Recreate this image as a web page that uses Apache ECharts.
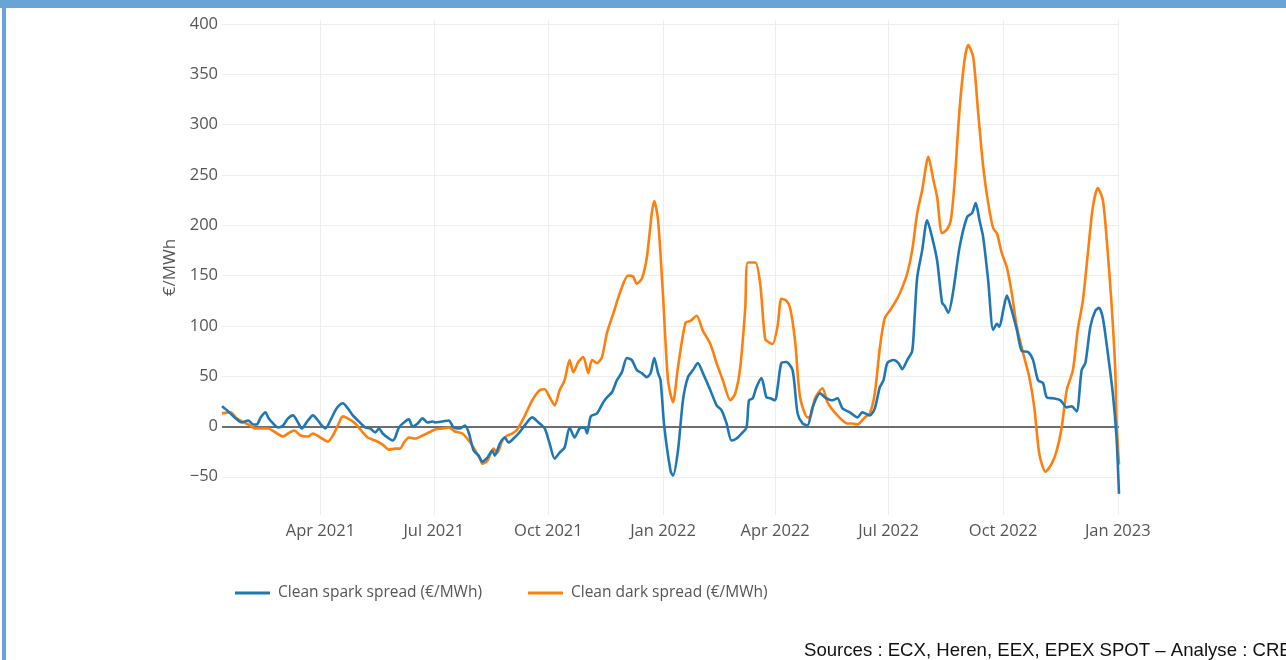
<!DOCTYPE html>
<html>
<head>
<meta charset="utf-8">
<title>Clean spark spread / Clean dark spread</title>
<script src="https://cdn.jsdelivr.net/npm/echarts@6/dist/echarts.min.js"></script>
<style>
  html, body { margin: 0; padding: 0; background: #ffffff; }
  #chart { width: 1286px; height: 660px; }
</style>
</head>
<body>
<div id="chart"></div>
<script>
// Clean spark spread (gas) and clean dark spread (coal), €/MWh
const sparkDates = [
  '2021-01-12','2021-01-17','2021-01-23','2021-01-28','2021-02-02','2021-02-06','2021-02-09','2021-02-12',
  '2021-02-16','2021-02-18','2021-02-22','2021-02-26','2021-03-02','2021-03-06','2021-03-10','2021-03-14',
  '2021-03-17','2021-03-22','2021-03-26','2021-03-30','2021-04-02','2021-04-05','2021-04-09','2021-04-13',
  '2021-04-16','2021-04-19','2021-04-23','2021-04-27','2021-05-01','2021-05-07','2021-05-11','2021-05-15',
  '2021-05-18','2021-05-21','2021-05-26','2021-05-29','2021-05-31','2021-06-03','2021-06-08','2021-06-11',
  '2021-06-14','2021-06-18','2021-06-22','2021-06-26','2021-06-30','2021-07-02','2021-07-08','2021-07-13',
  '2021-07-17','2021-07-22','2021-07-26','2021-07-29','2021-08-02','2021-08-06','2021-08-09','2021-08-13',
  '2021-08-17','2021-08-19','2021-08-23','2021-08-27','2021-08-30','2021-09-03','2021-09-07','2021-09-12',
  '2021-09-18','2021-09-23','2021-09-28','2021-10-02','2021-10-06','2021-10-10','2021-10-14','2021-10-18',
  '2021-10-22','2021-10-26','2021-10-30','2021-11-01','2021-11-04','2021-11-09','2021-11-14','2021-11-17',
  '2021-11-21','2021-11-25','2021-11-29','2021-12-03','2021-12-07','2021-12-11','2021-12-15','2021-12-19',
  '2021-12-22','2021-12-25','2021-12-28','2021-12-30','2022-01-02','2022-01-07','2022-01-09','2022-01-13',
  '2022-01-17','2022-01-21','2022-01-25','2022-01-29','2022-02-02','2022-02-08','2022-02-13','2022-02-17',
  '2022-02-21','2022-02-25','2022-03-01','2022-03-05','2022-03-09','2022-03-11','2022-03-14','2022-03-17',
  '2022-03-21','2022-03-25','2022-03-28','2022-04-01','2022-04-03','2022-04-06','2022-04-10','2022-04-15',
  '2022-04-19','2022-04-23','2022-04-27','2022-05-01','2022-05-07','2022-05-11','2022-05-17','2022-05-21',
  '2022-05-25','2022-05-31','2022-06-06','2022-06-10','2022-06-16','2022-06-20','2022-06-24','2022-06-27',
  '2022-06-30','2022-07-05','2022-07-09','2022-07-12','2022-07-16','2022-07-20','2022-07-22','2022-07-24',
  '2022-07-28','2022-08-01','2022-08-05','2022-08-09','2022-08-13','2022-08-15','2022-08-18','2022-08-22',
  '2022-08-27','2022-09-02','2022-09-06','2022-09-09','2022-09-12','2022-09-15','2022-09-19','2022-09-23',
  '2022-09-26','2022-09-28','2022-10-01','2022-10-04','2022-10-08','2022-10-12','2022-10-16','2022-10-21',
  '2022-10-25','2022-10-29','2022-11-02','2022-11-05','2022-11-10','2022-11-16','2022-11-21','2022-11-25',
  '2022-11-29','2022-12-03','2022-12-06','2022-12-10','2022-12-14','2022-12-17','2022-12-20','2022-12-24',
  '2022-12-28','2022-12-31','2023-01-02'
];
const sparkValues = [
  20, 15, 8, 4, 6, 2, 2, 9,
  14, 9, 3, -1, 1, 8, 11, 4,
  -2, 6, 11, 6, 1, -2, 6, 16,
  21, 23, 18, 11, 6, -1, -2, -6,
  -2, -7, -12, -14, -11, -1, 5, 7,
  0, 3, 8, 4, 5, 4, 5, 6,
  -1, -2, 1, -6, -24, -29, -35, -31,
  -24, -29, -17, -11, -16, -12, -7, 1,
  9, 4, -2, -17, -32, -26, -21, -1,
  -11, -2, -1, -7, 10, 13, 24, 29,
  34, 46, 54, 68, 66, 56, 53, 49,
  53, 68, 53, 46, 0, -44, -49, -24,
  26, 49, 56, 63, 53, 36, 21, 16,
  3, -14, -12, -7, -1, 26, 28, 39,
  48, 29, 28, 26, 39, 63, 64, 56,
  13, 3, 1, 19, 33, 29, 26, 28,
  18, 14, 9, 14, 11, 18, 39, 46,
  63, 66, 63, 57, 66, 75, 110, 148,
  175, 205, 188, 165, 123, 120, 113, 135,
  178, 208, 212, 222, 205, 188, 145, 96,
  102, 99, 115, 130, 115, 96, 75, 74,
  66, 46, 43, 29, 28, 26, 19, 20,
  15, 56, 63, 99, 115, 118, 108, 73,
  33, -11, -67
];

const darkDates = [
  '2021-01-12','2021-01-19','2021-01-23','2021-01-28','2021-02-02','2021-02-08','2021-02-13','2021-02-18',
  '2021-02-24','2021-03-02','2021-03-06','2021-03-11','2021-03-16','2021-03-22','2021-03-26','2021-04-01',
  '2021-04-07','2021-04-11','2021-04-15','2021-04-19','2021-04-23','2021-04-29','2021-05-05','2021-05-09',
  '2021-05-15','2021-05-21','2021-05-26','2021-05-31','2021-06-04','2021-06-07','2021-06-11','2021-06-16',
  '2021-06-22','2021-06-27','2021-07-02','2021-07-08','2021-07-13','2021-07-18','2021-07-24','2021-07-29',
  '2021-08-02','2021-08-07','2021-08-09','2021-08-13','2021-08-18','2021-08-21','2021-08-25','2021-08-29',
  '2021-09-02','2021-09-06','2021-09-11','2021-09-18','2021-09-24','2021-09-28','2021-10-02','2021-10-06',
  '2021-10-10','2021-10-14','2021-10-18','2021-10-21','2021-10-25','2021-10-29','2021-11-02','2021-11-05',
  '2021-11-09','2021-11-13','2021-11-17','2021-11-22','2021-11-28','2021-12-04','2021-12-08','2021-12-11',
  '2021-12-15','2021-12-19','2021-12-23','2021-12-25','2021-12-28','2022-01-01','2022-01-05','2022-01-09',
  '2022-01-13','2022-01-19','2022-01-23','2022-01-28','2022-02-02','2022-02-08','2022-02-13','2022-02-18',
  '2022-02-24','2022-02-28','2022-03-04','2022-03-08','2022-03-10','2022-03-16','2022-03-20','2022-03-24',
  '2022-03-28','2022-03-30','2022-04-03','2022-04-06','2022-04-10','2022-04-13','2022-04-17','2022-04-21',
  '2022-04-27','2022-04-29','2022-05-03','2022-05-09','2022-05-13','2022-05-21','2022-05-29','2022-06-02',
  '2022-06-06','2022-06-12','2022-06-16','2022-06-20','2022-06-24','2022-06-28','2022-07-02','2022-07-08',
  '2022-07-12','2022-07-16','2022-07-20','2022-07-24','2022-07-28','2022-08-02','2022-08-06','2022-08-09',
  '2022-08-13','2022-08-17','2022-08-20','2022-08-23','2022-08-27','2022-08-31','2022-09-03','2022-09-07',
  '2022-09-11','2022-09-15','2022-09-19','2022-09-23','2022-09-26','2022-09-30','2022-10-04','2022-10-08',
  '2022-10-12','2022-10-17','2022-10-22','2022-10-26','2022-10-30','2022-11-04','2022-11-09','2022-11-13',
  '2022-11-17','2022-11-21','2022-11-26','2022-11-30','2022-12-04','2022-12-08','2022-12-12','2022-12-16',
  '2022-12-20','2022-12-23','2022-12-27','2022-12-30','2022-12-31','2023-01-02'
];
const darkValues = [
  13, 14, 9, 5, 2, -2, -2, -2,
  -6, -10, -7, -4, -9, -10, -7, -11,
  -15, -9, 1, 10, 8, 3, -6, -11,
  -14, -18, -23, -22, -22, -16, -11, -12,
  -9, -6, -3, -2, -1, -5, -7, -14,
  -21, -32, -37, -34, -22, -26, -14, -9,
  -7, -3, 8, 26, 36, 37, 29, 21,
  36, 46, 66, 54, 64, 69, 53, 66,
  63, 69, 93, 112, 135, 150, 149, 142,
  147, 168, 212, 224, 205, 130, 46, 24,
  59, 103, 105, 110, 95, 82, 63, 46,
  26, 33, 59, 118, 163, 163, 142, 87,
  83, 82, 100, 127, 125, 118, 85, 29,
  9, 9, 28, 38, 24, 11, 3, 3,
  2, 9, 13, 33, 78, 108, 115, 127,
  138, 152, 175, 212, 235, 268, 245, 228,
  192, 196, 205, 242, 315, 364, 379, 367,
  311, 258, 222, 197, 192, 172, 158, 132,
  99, 73, 49, 19, -27, -45, -37, -24,
  -1, 36, 56, 97, 125, 172, 218, 237,
  225, 188, 122, 56, 6, -38
];

// Axis ticks and range
const xTickDates = ['2021-04-01','2021-07-01','2021-10-01','2022-01-01','2022-04-01','2022-07-01','2022-10-01','2023-01-01'];
const xRange = ['2021-01-12', '2023-01-02'];
const yTickValues = [-50, 0, 50, 100, 150, 200, 250, 300, 350, 400];
const monthNames = ['Jan','Feb','Mar','Apr','May','Jun','Jul','Aug','Sep','Oct','Nov','Dec'];

const seriesNames = ['Clean spark spread (€/MWh)', 'Clean dark spread (€/MWh)'];

// Dates are handled as UTC timestamps on a numeric axis
function ts(d) { return Date.parse(d + 'T00:00:00Z'); }
function pairs(dates, values) {
  return dates.map((d, i) => [ts(d), values[i]]);
}

const FONT = '"Open Sans", "DejaVu Sans", sans-serif';
const chart = echarts.init(document.getElementById('chart'), null, { renderer: 'canvas' });

chart.setOption({
  animation: false,
  backgroundColor: '#ffffff',
  grid: { left: 222, right: 167, top: 20, bottom: 145, containLabel: false },
  legend: {
    left: 230,
    top: 577,
    icon: 'rect',
    itemWidth: 35,
    itemHeight: 3,
    itemGap: 46,
    selectedMode: false,
    textStyle: { fontFamily: FONT, fontSize: 15.5, color: '#555', lineHeight: 22, padding: [0, 0, 0, 3] },
    data: seriesNames
  },
  xAxis: {
    type: 'value',
    min: ts(xRange[0]),
    max: ts(xRange[1]),
    axisLine: { show: false },
    axisTick: { show: false, customValues: xTickDates.map(ts) },
    splitLine: { show: true, lineStyle: { color: '#eeeeee', width: 1 } },
    axisLabel: {
      customValues: xTickDates.map(ts),
      margin: 8,
      fontFamily: FONT,
      fontSize: 16.5,
      color: '#555',
      formatter: function (v) {
        const d = new Date(v);
        return monthNames[d.getUTCMonth()] + ' ' + d.getUTCFullYear();
      }
    }
  },
  yAxis: {
    type: 'value',
    min: -88,
    max: 404,
    name: '€/MWh',
    nameLocation: 'middle',
    nameGap: 41,
    nameRotate: 90,
    nameTextStyle: { fontFamily: FONT, fontSize: 17, color: '#555' },
    axisLine: { show: false },
    axisTick: { show: false, customValues: yTickValues },
    splitLine: { show: true, lineStyle: { color: '#eeeeee', width: 1 } },
    axisLabel: {
      customValues: yTickValues,
      margin: 4,
      fontFamily: FONT,
      fontSize: 16.5,
      color: '#555',
      formatter: function (v) { return v < 0 ? '\u2212' + Math.abs(v) : String(v); }
    }
  },
  series: [
    {
      name: seriesNames[0],
      type: 'line',
      data: pairs(sparkDates, sparkValues),
      showSymbol: false,
      smooth: 0.25,
      color: '#1f77b4',
      lineStyle: { color: '#1f77b4', width: 2.6 },
      emphasis: { disabled: true },
      z: 3,
      markLine: {
        silent: true,
        symbol: 'none',
        label: { show: false },
        lineStyle: { color: '#6e6e6e', width: 2, type: 'solid' },
        data: [{ yAxis: 0 }],
        z: 1
      }
    },
    {
      name: seriesNames[1],
      type: 'line',
      data: pairs(darkDates, darkValues),
      showSymbol: false,
      smooth: 0.25,
      color: '#ff7f0e',
      lineStyle: { color: '#ff7f0e', width: 2.6 },
      emphasis: { disabled: true },
      z: 2
    }
  ],
  graphic: [
    { type: 'rect', left: 0, top: 0, shape: { width: 1286, height: 8 }, style: { fill: '#68a4d6' }, silent: true },
    { type: 'rect', left: 2, top: 0, shape: { width: 4, height: 660 }, style: { fill: '#68a4d6' }, silent: true },
    {
      type: 'text', left: 804, top: 641, silent: true,
      style: {
        text: 'Sources : ECX, Heren, EEX, EPEX SPOT \u2013 Analyse : CRE',
        fill: '#111', fontSize: 18.6, fontFamily: '"Liberation Sans", Arial, sans-serif'
      }
    }
  ]
});
</script>
</body>
</html>
